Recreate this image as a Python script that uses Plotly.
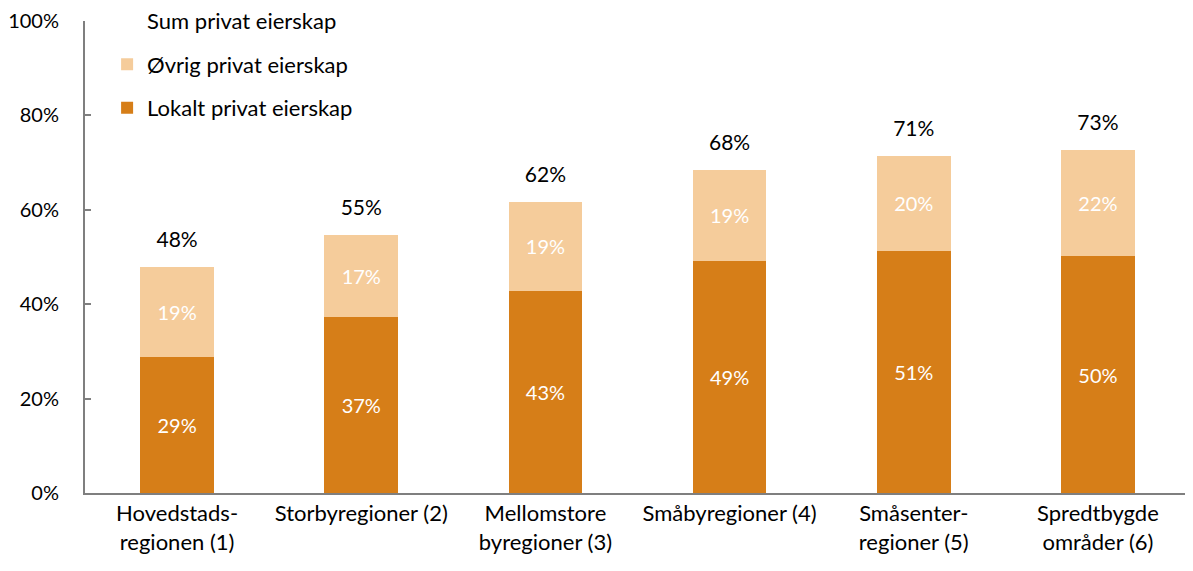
import plotly.graph_objects as go

# data
regions = ['Hovedstads-<br>regionen (1)', 'Storbyregioner (2)', 'Mellomstore<br>byregioner (3)',
           'Småbyregioner (4)', 'Småsenter-<br>regioner (5)', 'Spredtbygde<br>områder (6)']
lokalt = [28.8, 37.3, 42.8, 49.2, 51.3, 50.2]
ovrig = [19.1, 17.4, 18.9, 19.2, 20.1, 22.4]
total = [a + b for a, b in zip(lokalt, ovrig)]

dark = '#D67E18'
light = '#F5CC9B'
font = 'Lato'

fig = go.Figure()

fig.add_trace(go.Bar(
    x=regions, y=lokalt, name='Lokalt privat eierskap',
    marker=dict(color=dark, line=dict(width=0)),
    text=[f'{v:.0f}%' for v in lokalt], textposition='inside',
    insidetextanchor='middle', textangle=0,
    textfont=dict(color='white', size=20, family=font),
    legendgroup='a', legendrank=3, width=0.4
))
fig.add_trace(go.Bar(
    x=regions, y=ovrig, name='Øvrig privat eierskap',
    marker=dict(color=light, line=dict(width=0)),
    text=[f'{v:.0f}%' for v in ovrig], textposition='inside',
    insidetextanchor='middle', textangle=0,
    textfont=dict(color='white', size=20, family=font),
    legendgroup='b', legendrank=2, width=0.4
))
# totals: invisible markers carry the label and the legend entry
fig.add_trace(go.Scatter(
    x=regions, y=total, name='Sum privat eierskap',
    mode='markers+text', marker=dict(size=22, color='rgba(0,0,0,0)'),
    text=[f'{v:.0f}%' for v in total], textposition='top center',
    textfont=dict(color='black', size=21, family=font),
    legendgroup='c', legendrank=1, hoverinfo='skip'
))

# the page body adds an 8px offset, so margins are shifted to compensate
fig.update_layout(
    width=1193, height=571,
    barmode='stack',
    plot_bgcolor='white', paper_bgcolor='white',
    margin=dict(l=77, r=11, t=13, b=86, autoexpand=False),
    font=dict(family=font, size=21, color='black'),
    showlegend=True,
    legend=dict(
        x=0.02, y=1.045, xanchor='left', yanchor='top',
        traceorder='grouped', tracegroupgap=12,
        font=dict(size=22, family=font), bgcolor='rgba(0,0,0,0)',
        itemwidth=30
    ),
)
fig.update_yaxes(
    range=[0, 100], tickvals=[0, 20, 40, 60, 80, 100],
    ticktext=['0%', '20%', '40%', '60%', '80%', '100%'],
    showline=True, linecolor='#7f7f7f', linewidth=2,
    ticks='inside', ticklen=6, tickcolor='#7f7f7f', tickwidth=2,
    showgrid=False, zeroline=False, ticklabelstandoff=20,
    ticklabeloverflow='allow',
    tickfont=dict(size=20), automargin=False
)
fig.update_xaxes(
    showline=True, linecolor='#7f7f7f', linewidth=2,
    showgrid=False, ticks='', tickfont=dict(size=22), automargin=False
)

fig.write_html('out.html')
